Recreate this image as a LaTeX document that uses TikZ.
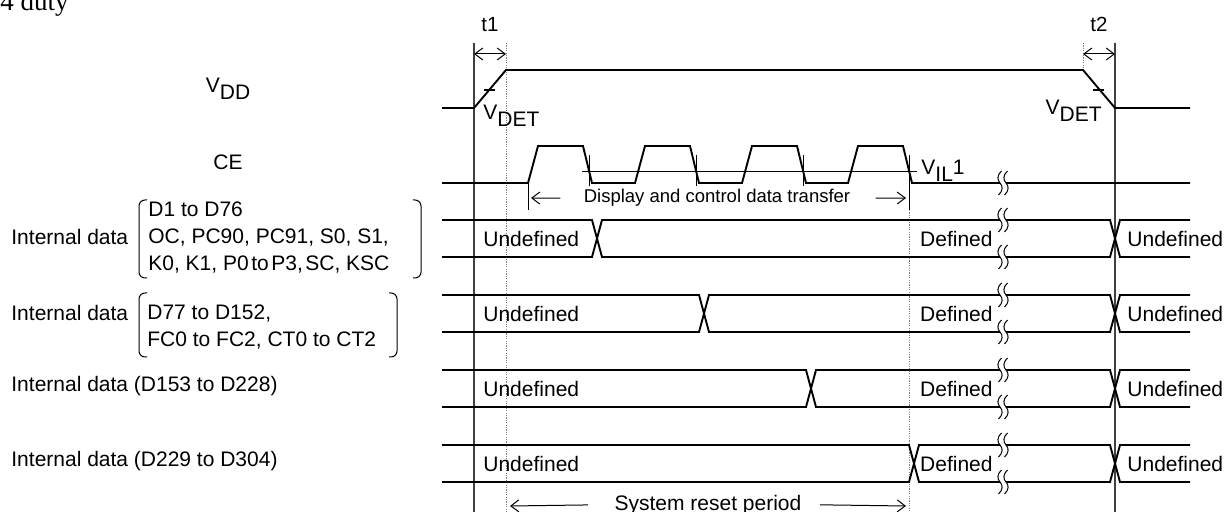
\documentclass[tikz,border=0pt]{standalone}
\usepackage{fontspec}
\setmainfont{Liberation Sans}
\newfontfamily\timesfont{Liberation Serif}
\usetikzlibrary{arrows.meta}
\newcommand\lowtxt[1]{\raisebox{-3.5pt}{#1}}
\begin{document}
\begin{tikzpicture}[x=0.5pt,y=-0.5pt,line cap=butt,line join=miter,>={Straight Barb[length=4pt,width=6pt]},font=\fontsize{10.5}{13.5}\selectfont]
	\tikzset{sig/.style={line width=0.95pt},
		thinline/.style={line width=0.5pt},
		tline/.style={line width=0.65pt,black!75},
		dotline/.style={line width=0.5pt,black!50,dash pattern=on 0.6pt off 0.6pt},
		lbl/.style={inner sep=0pt},
		small/.style={inner sep=0pt,font=\fontsize{9.25}{11}\selectfont},
		brk/.pic={\fill[white] (-3,-7) rectangle (3,7);
			\foreach \s in {-3,3}
			\draw[thinline] (\s+1.5,-12) .. controls (\s-3,-8) and (\s-3,-3) .. (\s,0) .. controls (\s+3,3) and (\s+3,8) .. (\s-1.5,12);}}
	\useasboundingbox (0,0) rectangle (1225,512);
	\node[lbl,anchor=base west,font=\timesfont\fontsize{13.5}{15}\selectfont] (title) at (0,11) {4 duty};
	\node[lbl,anchor=base] (vdd) at (228,93) {V\lowtxt{DD}};
	\node[lbl,anchor=base] (ce) at (228,170) {CE};
	\node[lbl,anchor=west] (int1) at (11,237) {Internal data};
	\node[lbl,anchor=west,align=left] (grp1) at (148,238) {D1 to D76\\OC, PC90, PC91, S0, S1,\\K0, K1, P0\hspace{.12em}to\hspace{.12em}P3,\hspace{.12em}SC, KSC};
	\draw[thinline,rounded corners=3pt] (147,200) -- (139,200) -- (139,278) -- (147,278);
	\draw[thinline,rounded corners=3pt] (413,200) -- (421,200) -- (421,278) -- (413,278);
	\node[lbl,anchor=west] (int2) at (11,313) {Internal data};
	\node[lbl,anchor=west,align=left] (grp2) at (147,327) {D77 to D152,\\FC0 to FC2, CT0 to CT2};
	\draw[thinline,rounded corners=3pt] (147,293) -- (139,293) -- (139,357) -- (147,357);
	\draw[thinline,rounded corners=3pt] (389,293) -- (397,293) -- (397,357) -- (389,357);
	\node[lbl,anchor=west] (int3) at (11,386) {Internal data (D153 to D228)};
	\node[lbl,anchor=west] (int4) at (11,461) {Internal data (D229 to D304)};
	% t1 / t2
	\draw[tline] (474,43) -- (474,512);
	\draw[dotline] (506,43) -- (506,512);
	\draw[tline] (1115,43) -- (1115,512);
	\draw[dotline] (1083,43) -- (1083,70);
	\coordinate (t1a) at (474,54); \coordinate (t1b) at (506,54);
	\coordinate (t2a) at (1083,54); \coordinate (t2b) at (1115,54);
	\draw[<->,thinline] (t1a) -- (t1b);
	\draw[<->,thinline] (t2a) -- (t2b);
	\node[lbl,anchor=base,font=\fontsize{10.25}{12}\selectfont] (t1) at (490,32) {t1};
	\node[lbl,anchor=base,font=\fontsize{10.25}{12}\selectfont] (t2) at (1099,32) {t2};
	% VDD
	\draw[sig] (442,108) -- (474,108) -- (506,70) -- (1083,70) -- (1115,108) -- (1190,108);
	\draw[sig] (484,90) -- (495,90);
	\draw[sig] (1093,90) -- (1104,90);
	\node[lbl,anchor=base west] (vdetL) at (483,120) {V\lowtxt{DET}};
	\node[lbl,anchor=base east] (vdetR) at (1102,115) {V\lowtxt{DET}};
	% CE
	\draw[thinline] (582,172) -- (917,172);
	\draw[sig] (442,183) \foreach \p in {528,635,742,848}{ -- (\p,183) -- (\p+10,146) -- (\p+55,146) -- (\p+64,183)} -- (1190,183);
	\foreach \p in {528,635,742}
		\draw[thinline] (\p+61,155) -- (\p+61,186);
	\draw[thinline] (909,155) -- (909,210);
	\draw[dotline] (909,210) -- (909,512);
	\draw[thinline] (528,183) -- (528,210);
	\pic at (1003,183) {brk};
	\node[lbl,anchor=base west] (vil) at (921,175) {V\lowtxt{IL}1};
	\node[small,anchor=base] (xfer) at (717,203) {Display and control data transfer};
	\coordinate (xferL) at (531,198); \coordinate (xferR) at (906,198);
	\draw[->,thinline,shorten <=11.5pt] (xfer.west) -- (xferL);
	\draw[->,thinline,shorten <=12.5pt] (xfer.east) -- (xferR);
	% internal data
	\foreach \yt/\xc/\nm in {220/597/1,295/704/2,370/811/3,445/914/4}{
		\pgfmathsetmacro\yb{\yt+37}
		\pgfmathsetmacro\ym{\yt+18.5}
		\draw[sig] (442,\yt) -- (\xc-5,\yt) -- (\xc+5,\yb) -- (1110,\yb) -- (1120,\yt) -- (1190,\yt);
		\draw[sig] (442,\yb) -- (\xc-5,\yb) -- (\xc+5,\yt) -- (1110,\yt) -- (1120,\yb) -- (1190,\yb);
		\pic at (1003,\yt) {brk};
		\pic at (1003,\yb) {brk};
		\node[lbl,anchor=west] (undefA\nm) at (483,\ym) {Undefined};
		\node[lbl,anchor=east] (def\nm) at (993,\ym) {Defined};
		\node[lbl,anchor=west] (undefB\nm) at (1127,\ym) {Undefined};
	}
	\node[lbl,anchor=base] (reset) at (708,510) {System reset period};
	\coordinate (resetL) at (510,506); \coordinate (resetR) at (906,506);
	\draw[->,thinline,shorten <=13pt] (reset.west) -- (resetL);
	\draw[->,thinline,shorten <=9pt] (reset.east) -- (resetR);
\end{tikzpicture}
\end{document}
